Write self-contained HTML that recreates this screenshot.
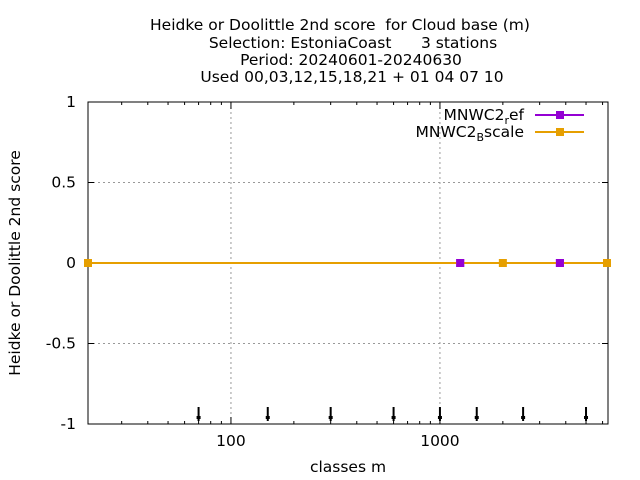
<!DOCTYPE html>
<html><head><meta charset="utf-8"><style>
body{margin:0;background:#fff;}
svg{display:block;font-family:"DejaVu Sans","Liberation Sans",sans-serif;}
text{white-space:pre;}
</style></head><body>
<svg id="chart" width="640" height="480">
<g font-size="15.5" text-anchor="middle" fill="#000">
<text x="340" y="30" xml:space="preserve">Heidke or Doolittle 2nd score  for Cloud base (m)</text>
<text x="353" y="48" xml:space="preserve">Selection: EstoniaCoast      3 stations</text>
<text x="351" y="65">Period: 20240601-20240630</text>
<text x="352" y="82">Used 00,03,12,15,18,21 + 01 04 07 10</text>
</g>
<g id="grid"></g>
<g id="axes"></g>
<g id="series"></g>
<text x="20" y="263" font-size="15.5" text-anchor="middle" transform="rotate(-90 20 263)">Heidke or Doolittle 2nd score</text>
<text x="348" y="472" font-size="15.5" text-anchor="middle">classes m</text>
<g font-size="15.5" text-anchor="end">
<g>
<text x="524" y="120">MNWC2<tspan font-size="11" dy="4">r</tspan><tspan dy="-4">ef</tspan></text>
<line x1="535" y1="115" x2="584" y2="115" stroke="#9400d3" stroke-width="2"/>
<rect x="556" y="111" width="8" height="8" fill="#9400d3"/>
</g>
<g>
<text x="524" y="137">MNWC2<tspan font-size="11" dy="4">B</tspan><tspan dy="-4">scale</tspan></text>
<line x1="535" y1="132" x2="584" y2="132" stroke="#e69f00" stroke-width="2"/>
<rect x="556" y="128" width="8" height="8" fill="#e69f00"/>
</g>
</g>
</svg>
<script>
const yTicks=[1,0.5,0,-0.5,-1];
const yTickLabels=["1","0.5","0","-0.5","-1"];
const xTicks=[100,1000];
const xTickLabels=["100","1000"];
const refX=[1250,3750];
const refY=[0,0];
const bscaleX=[20.7,2000,6300];
const bscaleY=[0,0,0];
const arrowX=[70,150,300,600,1000,1500,2500,5000];
const L=88,R=608,T=102,B=424;
const xmin=20.7,xmax=6370;
const NS="http://www.w3.org/2000/svg";
function X(v){return L+(Math.log10(v)-Math.log10(xmin))/(Math.log10(xmax)-Math.log10(xmin))*(R-L);}
function Y(v){return B-(v+1)/2*(B-T);}
function el(t,a,p){const e=document.createElementNS(NS,t);for(const k in a)e.setAttribute(k,a[k]);p.appendChild(e);return e;}
const grid=document.getElementById('grid'),axes=document.getElementById('axes'),series=document.getElementById('series');
yTicks.forEach((v,i)=>{
 if(v>-1&&v<1){const g=el('line',{x1:L,x2:R,y1:Y(v),y2:Y(v),stroke:'#999','stroke-dasharray':'2,3'},grid);
 
 }
 el('line',{x1:L,x2:L+6,y1:Y(v),y2:Y(v),stroke:'#000'},axes);
 el('line',{x1:R-6,x2:R,y1:Y(v),y2:Y(v),stroke:'#000'},axes);
 const t=el('text',{x:L-12,y:Y(v)+5,'font-size':15.5,'text-anchor':'end'},axes);t.textContent=yTickLabels[i];
 
 
});
xTicks.forEach((v,i)=>{
 const g=el('line',{x1:X(v),x2:X(v),y1:T,y2:B,stroke:'#999','stroke-dasharray':'2,3'},grid);
 
 
 el('line',{x1:X(v),x2:X(v),y1:B,y2:B-7,stroke:'#000'},axes);
 el('line',{x1:X(v),x2:X(v),y1:T,y2:T+7,stroke:'#000'},axes);
 const t=el('text',{x:X(v),y:B+22,'font-size':15.5,'text-anchor':'middle'},axes);t.textContent=xTickLabels[i];
 
 
});
for(let d=10;d<=1000;d*=10){for(let m=2;m<=9;m++){const v=m*d;if(v<xmin||v>xmax)continue;
 el('line',{x1:X(v),x2:X(v),y1:B,y2:B-3,stroke:'#000'},axes);
 el('line',{x1:X(v),x2:X(v),y1:T,y2:T+3,stroke:'#000'},axes);}}
el('rect',{x:L,y:T,width:R-L,height:B-T,fill:'none',stroke:'#000','stroke-width':1},axes);
arrowX.forEach(v=>{
 const a=el('g',{},series);
 
 
 el('line',{x1:X(v),x2:X(v),y1:407,y2:421,stroke:'#000','stroke-width':2},a);
 el('rect',{x:X(v)-2,y:416,width:4,height:3,fill:'#000'},a);
});
function drawSeries(xs,ys,col,name){
 const g=el('g',{},series);
 
 
 el('polyline',{points:xs.map((x,i)=>X(x)+','+Y(ys[i])).join(' '),fill:'none',stroke:col,'stroke-width':2},g);
 xs.forEach((x,i)=>{const p=el('rect',{x:X(x)-4,y:Y(ys[i])-4,width:8,height:8,fill:col},g);
 
 });
}
drawSeries(refX,refY,'#9400d3','series-ref');
drawSeries(bscaleX,bscaleY,'#e69f00','series-bscale');
refX.forEach((x,i)=>{const p=el('rect',{x:X(x)-4,y:Y(refY[i])-4,width:8,height:8,fill:'#9400d3'},series);
 
 });
</script>
</body></html>
